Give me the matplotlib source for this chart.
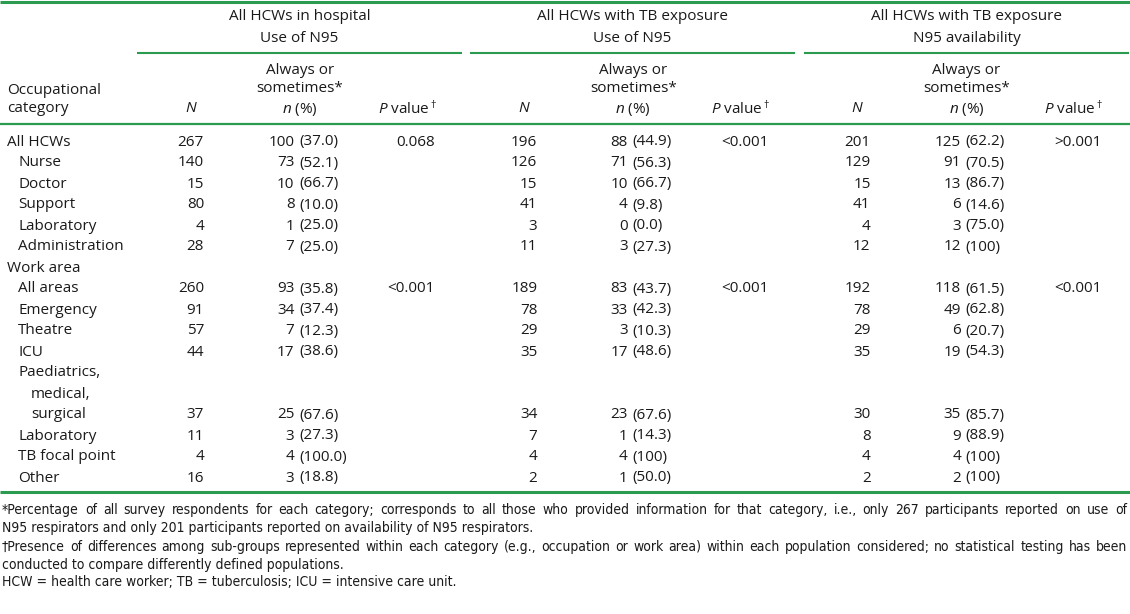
import matplotlib
matplotlib.use("Agg")
import matplotlib.pyplot as plt
from matplotlib import font_manager as fm

# --- table content -------------------------------------------------------
group_title1 = ["All HCWs in hospital", "All HCWs with TB exposure", "All HCWs with TB exposure"]
group_title2 = ["Use of N95", "Use of N95", "N95 availability"]

row_labels = ["All HCWs", "Nurse", "Doctor", "Support", "Laboratory", "Administration",
              "Work area", "All areas", "Emergency", "Theatre", "ICU",
              "Paediatrics,", "medical,", "surgical", "Laboratory", "TB focal point", "Other"]
row_indent = [0, 1, 1, 1, 1, 1, 0, 1, 1, 1, 1, 1, 2, 2, 1, 1, 1]
data_lines = [0, 1, 2, 3, 4, 5, 7, 8, 9, 10, 13, 14, 15, 16]
p_lines = [0, 7]

hosp_N = [267, 140, 15, 80, 4, 28, 260, 91, 57, 44, 37, 11, 4, 16]
hosp_n = [100, 73, 10, 8, 1, 7, 93, 34, 7, 17, 25, 3, 4, 3]
hosp_pct = ["37.0", "52.1", "66.7", "10.0", "25.0", "25.0",
            "35.8", "37.4", "12.3", "38.6", "67.6", "27.3", "100.0", "18.8"]
hosp_p = ["0.068", "<0.001"]

expo_N = [196, 126, 15, 41, 3, 11, 189, 78, 29, 35, 34, 7, 4, 2]
expo_n = [88, 71, 10, 4, 0, 3, 83, 33, 3, 17, 23, 1, 4, 1]
expo_pct = ["44.9", "56.3", "66.7", "9.8", "0.0", "27.3",
            "43.7", "42.3", "10.3", "48.6", "67.6", "14.3", "100", "50.0"]
expo_p = ["<0.001", "<0.001"]

avail_N = [201, 129, 15, 41, 4, 12, 192, 78, 29, 35, 30, 8, 4, 2]
avail_n = [125, 91, 13, 6, 3, 12, 118, 49, 6, 19, 35, 9, 4, 2]
avail_pct = ["62.2", "70.5", "86.7", "14.6", "75.0", "100",
             "61.5", "62.8", "20.7", "54.3", "85.7", "88.9", "100", "100"]
avail_p = [">0.001", "<0.001"]

footnotes = [
    ("*Percentage of all survey respondents for each category; corresponds to all those who provided "
     "information for that category, i.e., only 267 participants reported on use of", True),
    ("N95 respirators and only 201 participants reported on availability of N95 respirators.", False),
    ("\u2020Presence of differences among sub-groups represented within each category (e.g., occupation "
     "or work area) within each population considered; no statistical testing has been", True),
    ("conducted to compare differently defined populations.", False),
    ("HCW = health care worker; TB = tuberculosis; ICU = intensive care unit.", False),
]

# --- style ---------------------------------------------------------------
GREEN = "#2b9b4f"
INK = "#1a1a1a"
plt.rcParams["font.family"] = ["Open Sans", "DejaVu Sans"]
plt.rcParams["mathtext.fontset"] = "custom"
plt.rcParams["mathtext.rm"] = "Open Sans"
plt.rcParams["mathtext.it"] = "Open Sans:italic"
FS = 11

# look for any narrow / condensed face for the footnotes
narrow = None
for f in fm.fontManager.ttflist:
    if f.style != "normal" or f.weight not in (400, "normal", "regular"):
        continue
    if "Narrow" in f.name or "Condensed" in f.name or f.stretch in ("condensed", "semi-condensed", 75, 87.5):
        narrow = f
        break
if narrow is not None:
    foot_kw = dict(fontproperties=fm.FontProperties(fname=narrow.fname))
else:
    foot_kw = dict(family=["Roboto", "DejaVu Sans"])

fig = plt.figure(figsize=(11.3, 6.14), dpi=100)
ax = fig.add_axes([0, 0, 1, 1])
ax.set_xlim(0, 1130)
ax.set_ylim(614, 0)
ax.axis("off")

# rules
ax.hlines([1.5, 492], 0, 1130, color=GREEN, lw=2.2)
ax.hlines(124, 0, 1130, color=GREEN, lw=1.6)
group_x = [137, 470, 804]
group_w = 325
for gx in group_x:
    ax.hlines(52.5, gx, gx + group_w, color=GREEN, lw=1.5)

# header
ax.text(7, 91, "Occupational", fontsize=FS, color=INK, va="center")
ax.text(7, 109, "category", fontsize=FS, color=INK, va="center")
offsets = [0, 333.3, 666.6]
for g, off in enumerate(offsets):
    cx = group_x[g] + group_w / 2
    ax.text(cx, 17, group_title1[g], fontsize=FS, color=INK, ha="center", va="center")
    ax.text(cx, 39, group_title2[g], fontsize=FS, color=INK, ha="center", va="center")
    ax.text(191 + off, 109, "$N$", fontsize=FS, color=INK, ha="center", va="center")
    ax.text(300 + off, 70, "Always or", fontsize=FS, color=INK, ha="center", va="center")
    ax.text(300 + off, 89, "sometimes*", fontsize=FS, color=INK, ha="center", va="center")
    ax.text(300 + off, 109, "$n$ (%)", fontsize=FS, color=INK, ha="center", va="center")
    ax.text(437 + off, 109, "$P$ value$^\\dagger$", fontsize=FS, color=INK, ha="right", va="center")

# body
row_y = [142 + 21 * i for i in range(len(row_labels))]
indent_x = [7, 18, 31]
for lab, ind, y in zip(row_labels, row_indent, row_y):
    ax.text(indent_x[ind], y, lab, fontsize=FS, color=INK, va="center")

groups = [(hosp_N, hosp_n, hosp_pct, hosp_p),
          (expo_N, expo_n, expo_pct, expo_p),
          (avail_N, avail_n, avail_pct, avail_p)]
for (Ns, ns, pcts, ps), off in zip(groups, offsets):
    for line, N, n, pct in zip(data_lines, Ns, ns, pcts):
        y = row_y[line]
        ax.text(204 + off, y, str(N), fontsize=FS, color=INK, ha="right", va="center")
        ax.text(294.5 + off, y, str(n), fontsize=FS, color=INK, ha="right", va="center")
        ax.text(299 + off, y, "(" + pct + ")", fontsize=FS, color=INK, ha="left", va="center")
    for line, p in zip(p_lines, ps):
        ax.text(435 + off, row_y[line], p, fontsize=FS, color=INK, ha="right", va="center")

# footnotes (first and third line justified)
renderer = fig.canvas.get_renderer()


def width_of(s, size):
    t = ax.text(0, 0, s, color=INK, fontsize=size, **foot_kw)
    w = t.get_window_extent(renderer).width
    t.remove()
    return w


# pick the size that makes the first footnote line nearly fill the width
foot_fs = min(10.0, 10.0 * 1112 / width_of(footnotes[0][0], 10.0))

foot_y = [510, 528, 547, 565, 582]
for (txt, justify), y in zip(footnotes, foot_y):
    if not justify:
        ax.text(2, y, txt, color=INK, va="center", fontsize=foot_fs, **foot_kw)
        continue
    words = txt.split(" ")
    ws = [width_of(w, foot_fs) for w in words]
    gap = (1127 - 2 - sum(ws)) / (len(words) - 1)
    x = 2
    for w, wd in zip(words, ws):
        ax.text(x, y, w, color=INK, va="center", fontsize=foot_fs, **foot_kw)
        x += wd + gap

fig.savefig("out.png", dpi=100)
